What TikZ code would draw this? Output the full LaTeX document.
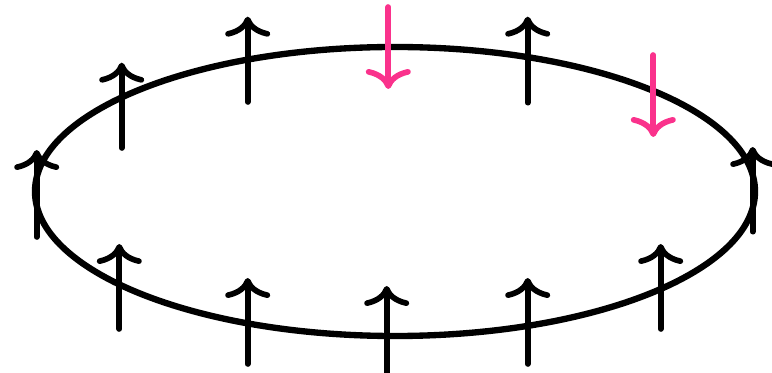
\documentclass[tikz,border=0pt]{standalone}
\usepackage{tikz}
\usetikzlibrary{arrows.meta}
\usepackage{xcolor}
\definecolor{spinpink}{RGB}{250,50,140}

\begin{document}
\begin{tikzpicture}[x=0.03cm, y=-0.03cm,
    spin/.style={line width=0.17cm, line cap=round,
        -{Computer Modern Rightarrow[length=0.6cm, width=1.35cm, line cap=round]}}]
\useasboundingbox (0,0) rectangle (772,373);

% ring
\draw[line width=0.19cm] (395,191.5) ellipse [x radius=10.8cm, y radius=4.335cm];

% up spins (x / tail / tip)
\foreach \x/\a/\b in {36.7/237/150, 121.7/148/62.7, 247.7/102/16.7, 527.7/102.7/16.7,
                      752.7/231.7/147, 119.3/329/244, 247.7/364/278, 386.7/376/286,
                      527.7/364/278, 660.7/329/244} {
    \draw[spin] (\x,\a) -- (\x,\b);
}

% flipped spins
\draw[spin, spinpink] (388.3,7) -- (388.3,89);
\draw[spin, spinpink] (653.3,55) -- (653.3,137);
\end{tikzpicture}
\end{document}
